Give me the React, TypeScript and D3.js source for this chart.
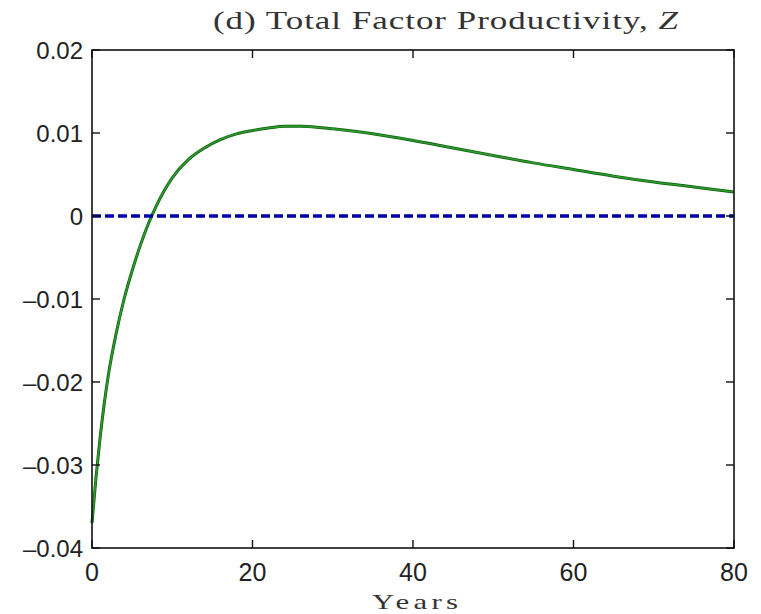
import React from "react";
import * as d3 from "d3";

const years = [0, 0.5, 1, 1.5, 2, 3, 4, 5, 6, 7, 8, 10, 12, 14, 16, 18, 20, 22, 24, 26, 28, 30, 35, 40, 45, 50, 55, 60, 65, 70, 75, 80];
const tfp = [-0.0370, -0.0315, -0.0268, -0.0228, -0.0194, -0.0142, -0.0100, -0.0066, -0.0036, -0.0010, 0.0012, 0.0046, 0.0068, 0.0082, 0.0092, 0.0099, 0.0103, 0.0106, 0.0108, 0.0108, 0.0107, 0.0105, 0.0099, 0.0091, 0.0082, 0.0073, 0.0064, 0.0056, 0.0048, 0.0041, 0.0035, 0.0029];
const xTicks = [0, 20, 40, 60, 80];
const yTicks = [-0.04, -0.03, -0.02, -0.01, 0, 0.01, 0.02];
const baseline = [0, 0];
const title = "(d) Total Factor Productivity, ";
const xLabel = "Years";

export default function App() {
  const W = 761, H = 614;
  const L = 92, R = 734, T = 50, B = 548;
  const x = d3.scaleLinear().domain([0, 80]).range([L, R]);
  const y = d3.scaleLinear().domain([-0.04, 0.02]).range([B, T]);
  const line = d3.line<number>().x((_, i) => x(years[i])).y((d) => y(d)).curve(d3.curveMonotoneX);
  const fmt = (v: number) => (v === 0 ? "0" : (v < 0 ? "\u2013" : "") + Math.abs(v).toFixed(2));
  const tl = 8;
  const sans = "'Liberation Sans', Arial, sans-serif";
  const serif = "'Liberation Serif', serif";
  const sx = 1.4;
  return (
    <svg width={W} height={H} style={{ position: "absolute", left: 0, top: 0, background: "#fff" }}>
      <rect x={0} y={0} width={W} height={H} fill="#fff" />
      <g transform={`translate(213,29) scale(${sx},1)`}>
        <text x={0} y={0} textLength={465 / sx} lengthAdjust="spacing" fontFamily={serif} fontSize={25} fill="#333">
          {title}<tspan fontStyle="italic">Z</tspan>
        </text>
      </g>
      <path d={line(tfp) || ""} fill="none" stroke="#0d5e0d" strokeWidth={3} />
      <path d={line(tfp) || ""} fill="none" stroke="#2e9a2e" strokeWidth={1.6} />
      <line x1={x(0)} x2={x(80)} y1={y(baseline[0])} y2={y(baseline[1])} stroke="#0000a8" strokeWidth={3.5} strokeDasharray="9,4" />
      <rect x={L} y={T} width={R - L} height={B - T} fill="none" stroke="#111" strokeWidth={1.6} />
      {xTicks.map((t) => (
        <g key={"x" + t}>
          <line x1={x(t)} x2={x(t)} y1={B} y2={B - tl} stroke="#111" strokeWidth={1.4} />
          <line x1={x(t)} x2={x(t)} y1={T} y2={T + tl} stroke="#111" strokeWidth={1.4} />
          <text x={x(t)} y={581} textAnchor="middle" fontFamily={sans} fontSize={25} fill="#222">{t}</text>
        </g>
      ))}
      {yTicks.map((t) => (
        <g key={"y" + t}>
          <line x1={L} x2={L + tl} y1={y(t)} y2={y(t)} stroke="#111" strokeWidth={1.4} />
          <line x1={R} x2={R - tl} y1={y(t)} y2={y(t)} stroke="#111" strokeWidth={1.4} />
          <text x={83} y={y(t) + 9} textAnchor="end" fontFamily={sans} fontSize={24} fill="#222">{fmt(t)}</text>
        </g>
      ))}
      <g transform={`translate(372,609) scale(${sx},1)`}>
        <text x={0} y={0} textLength={86 / sx} lengthAdjust="spacing" fontFamily={serif} fontSize={22} fill="#333">{xLabel}</text>
      </g>
    </svg>
  );
}
